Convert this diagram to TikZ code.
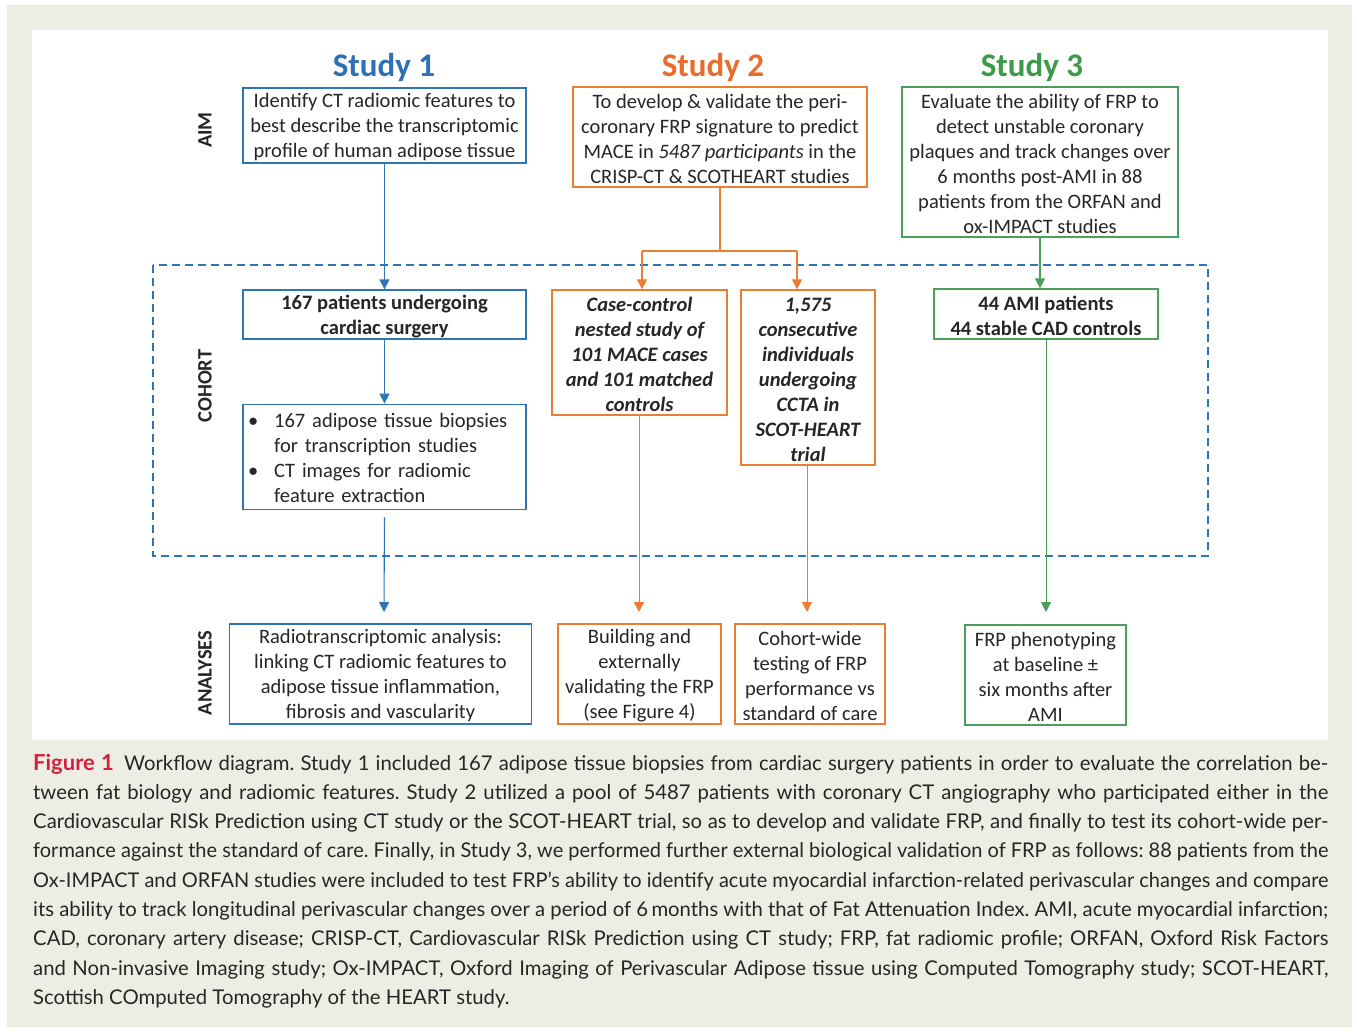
\documentclass[tikz,border=0pt]{standalone}
\usepackage{fontspec}
\usepackage{graphicx}
\setmainfont{Carlito}
\newfontfamily\capfont{Lato}
\usetikzlibrary{arrows.meta,calc}
\definecolor{bg}{RGB}{238,237,227}
\definecolor{sblue}{HTML}{2E6FB5}
\definecolor{sorange}{HTML}{EA6B2B}
\definecolor{sgreen}{HTML}{3C9A48}
\definecolor{bblue}{HTML}{2E75B6}
\definecolor{borange}{HTML}{ED7D31}
\definecolor{bgreen}{HTML}{4C9F58}
\definecolor{txt}{HTML}{262626}
\definecolor{crimson}{HTML}{D4203F}
\newlength\caplen
\newcommand\capfit[1]{\settowidth\caplen{#1}%
  \ifdim\caplen>1295pt\resizebox{1295pt}{\height}{#1}\else\makebox[1295pt][s]{#1}\fi}
\newcommand\fl{\rule{0pt}{18pt}}
\begin{document}
\begin{tikzpicture}[x=1pt,y=-1pt,
  box/.style={draw=#1, line width=1.3pt, text=txt, align=center, inner sep=0pt,
    font=\fontsize{20.5}{25}\selectfont},
  title/.style={text=#1, font=\fontsize{33}{38}\selectfont\bfseries, inner sep=0pt},
  side/.style={rotate=90, text=txt, font=\fontsize{20.5}{25}\selectfont\bfseries, inner sep=0pt},
  arr/.style={draw=#1, line width=1.3pt, -{Triangle[length=10pt,width=10pt]}},
  lin/.style={draw=#1, line width=1.3pt},
  capline/.style={anchor=base west, inner sep=0pt, text=txt, font=\capfont\fontsize{20.3}{29}\selectfont\frenchspacing}
]
\useasboundingbox (0,0) rectangle (1357,1031);
\fill[white] (0,0) rectangle (1357,1031);
\fill[bg] (7,5) rectangle (1352,1027);
\fill[white] (32,30) rectangle (1328,740);

% titles
\node[title=sblue] (t1) at (384,68) {Study 1};
\node[title=sorange] (t2) at (713,68) {Study 2};
\node[title=sgreen] (t3) at (1032,68) {Study 3};

% side labels
\node[side] (laim) at (205,130) {AIM};
\node[side] (lcoh) at (205,386) {COHORT};
\node[side] (lana) at (205,673) {ANALYSES};

% dashed cohort frame
\draw[bblue, line width=1.5pt, dash pattern=on 8pt off 5pt] (153,265) rectangle (1208,556);

% AIM boxes
\node[box=bblue, minimum width=283pt, minimum height=75pt] (aim1) at (384.5,125.5)
  {\fl Identify CT radiomic features to\\best describe the transcriptomic\\profile of human adipose tissue};
\node[box=borange, minimum width=294pt, minimum height=100pt] (aim2) at (720,137)
  {\fl To develop \& validate the peri-\\coronary FRP signature to predict\\MACE in \textit{5487 participants} in the\\CRISP-CT \& SCOTHEART studies};
\node[box=bgreen, minimum width=276pt, minimum height=150pt] (aim3) at (1040,162)
  {\fl Evaluate the ability of FRP to\\detect unstable coronary\\plaques and track changes over\\6 months post-AMI in 88\\patients from the ORFAN and\\ox-IMPACT studies};

% COHORT boxes
\node[box=bblue, minimum width=283pt, minimum height=49pt, font=\fontsize{20.5}{25}\selectfont\bfseries] (c1) at (384.5,314.5)
  {\fl 167 patients undergoing\\cardiac surgery};
\node[box=bblue, minimum width=283pt, minimum height=100pt, text width=273pt, align=left] (c2) at (384.5,457)
  {\begin{tabular}{@{}l@{\hspace{16pt}}l@{}}
   \textbullet\rule{0pt}{23pt} & 167 adipose tissue biopsies\\
               & for transcription studies\\
   \textbullet & CT images for radiomic\\
               & feature extraction
   \end{tabular}};
\node[box=borange, minimum width=175pt, minimum height=125pt, font=\fontsize{20.5}{25}\selectfont\bfseries\itshape] (ca) at (639.5,352.5)
  {\fl Case-control\\nested study of\\101 MACE cases\\and 101 matched\\controls};
\node[box=borange, minimum width=134pt, minimum height=175pt, font=\fontsize{20.5}{25}\selectfont\bfseries\itshape] (cb) at (808,377.5)
  {\fl 1,575\\consecutive\\individuals\\undergoing\\CCTA in\\SCOT-HEART\\trial};
\node[box=bgreen, minimum width=224pt, minimum height=50pt, font=\fontsize{20.5}{25}\selectfont\bfseries] (cg) at (1046,314)
  {\fl 44 AMI patients\\44 stable CAD controls};

% ANALYSES boxes
\node[box=bblue, minimum width=302pt, minimum height=100pt] (an1) at (380.5,674)
  {\fl Radiotranscriptomic analysis:\\linking CT radiomic features to\\adipose tissue inflammation,\\fibrosis and vascularity};
\node[box=borange, minimum width=163pt, minimum height=100pt] (ana) at (639.5,674)
  {\fl Building and\\externally\\validating the FRP\\(see Figure 4)};
\node[box=borange, minimum width=150pt, minimum height=100pt] (anb) at (810,674)
  {\fl Cohort-wide\\testing of FRP\\performance vs\\standard of care};
\node[box=bgreen, minimum width=161pt, minimum height=100pt] (ang) at (1045.5,675)
  {\fl FRP phenotyping\\at baseline ±\\six months after\\AMI};

% connector end points
\coordinate (e1) at (384,612);
\coordinate (ea) at (639,612);
\coordinate (eb) at (807,612);
\coordinate (eg) at (1046,612);
\coordinate (sl) at (642,251);
\coordinate (sr) at (797,251);

% Study 1 connectors
\draw[arr=bblue] (aim1.south) -- (c1.north);
\draw[arr=bblue] (c1.south) -- (c2.south |- c2.north);
\draw[arr=bblue, line width=1.1pt, shorten <=7pt] (c2.south) -- (e1);

% Study 2 connectors
\draw[lin=borange] (aim2.south) -- (aim2.south |- sl);
\draw[lin=borange] (sl) -- (sr);
\draw[arr=borange] (sl) -- (sl |- ca.north);
\draw[arr=borange] (sr) -- (sr |- cb.north);
\draw[arr=borange, line width=1pt] (ca.south -| ea) -- (ea);
\draw[arr=borange, line width=1pt] (cb.south -| eb) -- (eb);

% Study 3 connectors
\draw[arr=bgreen] (aim3.south) -- (aim3.south |- cg.north);
\draw[arr=bgreen, line width=1pt] (cg.south -| eg) -- (eg);

% caption
\node[capline] (cap1) at (33,770) {\capfit{{\color{crimson}\fontsize{22}{29}\selectfont\bfseries Figure 1}\hspace{4pt} Workflow diagram. Study 1 included 167 adipose tissue biopsies from cardiac surgery patients in order to evaluate the correlation be-}};
\node[capline] (cap2) at (33,799.3) {\capfit{tween fat biology and radiomic features. Study 2 utilized a pool of 5487 patients with coronary CT angiography who participated either in the}};
\node[capline] (cap3) at (33,828.6) {\capfit{Cardiovascular RISk Prediction using CT study or the SCOT-HEART trial, so as to develop and validate FRP, and finally to test its cohort-wide per-}};
\node[capline] (cap4) at (33,857.9) {\capfit{formance against the standard of care. Finally, in Study 3, we performed further external biological validation of FRP as follows: 88 patients from the}};
\node[capline] (cap5) at (33,887.2) {\capfit{Ox-IMPACT and ORFAN studies were included to test FRP’s ability to identify acute myocardial infarction-related perivascular changes and compare}};
\node[capline] (cap6) at (33,916.5) {\capfit{its ability to track longitudinal perivascular changes over a period of 6\,months with that of Fat Attenuation Index. AMI, acute myocardial infarction;}};
\node[capline] (cap7) at (33,945.8) {\capfit{CAD, coronary artery disease; CRISP-CT, Cardiovascular RISk Prediction using CT study; FRP, fat radiomic profile; ORFAN, Oxford Risk Factors}};
\node[capline] (cap8) at (33,975.1) {\capfit{and Non-invasive Imaging study; Ox-IMPACT, Oxford Imaging of Perivascular Adipose tissue using Computed Tomography study; SCOT-HEART,}};
\node[capline] (cap9) at (33,1004.4) {Scottish COmputed Tomography of the HEART study.};
\end{tikzpicture}
\end{document}
